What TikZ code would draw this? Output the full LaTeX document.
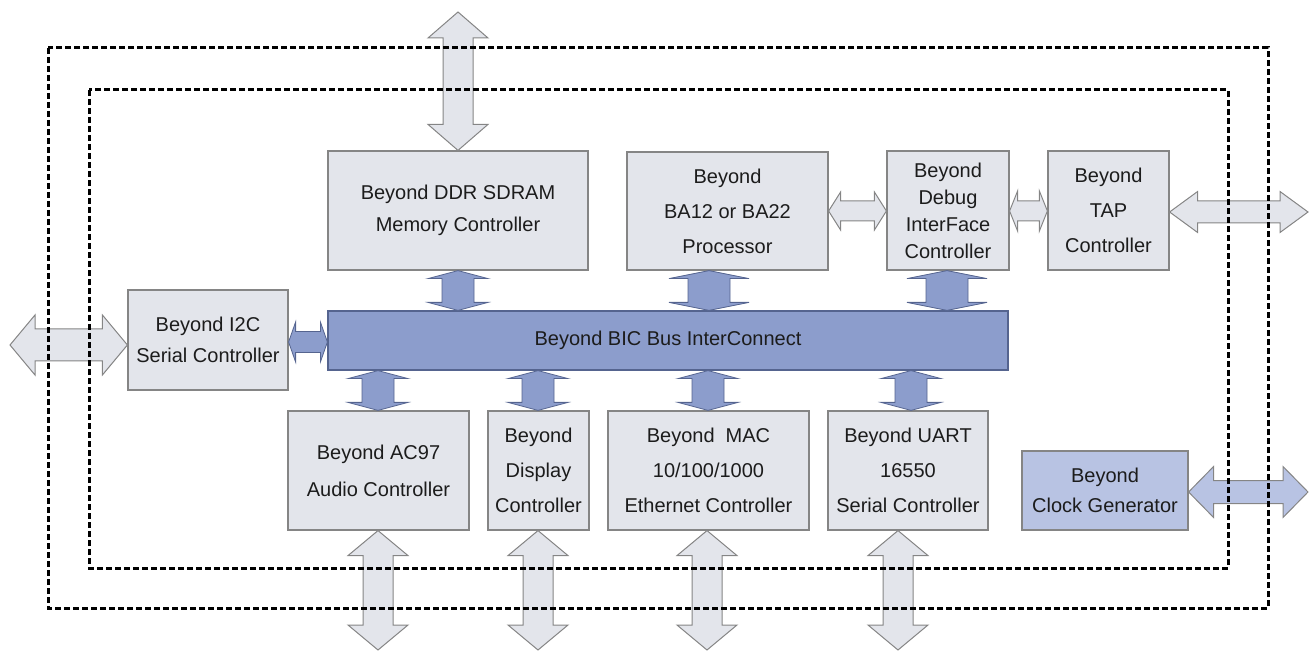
\documentclass[tikz,border=0pt]{standalone}
\usepackage{fontspec}
\setmainfont{Liberation Sans}
\usetikzlibrary{calc}

\definecolor{boxfill}{HTML}{E3E5EB}
\definecolor{boxline}{HTML}{858585}
\definecolor{busfill}{HTML}{8C9DCC}
\definecolor{busline}{HTML}{55648F}
\definecolor{clkfill}{HTML}{B8C3E3}
\definecolor{txt}{HTML}{1C1C1C}

% double block arrow, vertical: style, x, top end, bottom end, half shaft, half head, head length
\newcommand{\vlink}[7]{%
  \draw[#1] let \p1=(#3), \p2=(#4), \p3=(#2,0) in
    (\x3,\y1) -- (\x3+#6,\y1-#7) -- (\x3+#5,\y1-#7) -- (\x3+#5,\y2+#7)
    -- (\x3+#6,\y2+#7) -- (\x3,\y2) -- (\x3-#6,\y2+#7) -- (\x3-#5,\y2+#7)
    -- (\x3-#5,\y1-#7) -- (\x3-#6,\y1-#7) -- cycle;}
% double block arrow, horizontal: style, y, left end, right end, half shaft, half head, head length
\newcommand{\hlink}[7]{%
  \draw[#1] let \p1=(#3), \p2=(#4), \p3=(0,#2) in
    (\x1,\y3) -- (\x1+#7,\y3+#6) -- (\x1+#7,\y3+#5) -- (\x2-#7,\y3+#5)
    -- (\x2-#7,\y3+#6) -- (\x2,\y3) -- (\x2-#7,\y3-#6) -- (\x2-#7,\y3-#5)
    -- (\x1+#7,\y3-#5) -- (\x1+#7,\y3-#6) -- cycle;}

\begin{document}
\begin{tikzpicture}[x=1pt, y=-1pt,
    blk/.style={draw=boxline, fill=boxfill, line width=1.2pt, text=txt, inner sep=0pt,
      align=center, font=\fontsize{20}{35}\selectfont},
    bigarrow/.style={draw=boxline, fill=boxfill, line width=1pt, line join=miter},
    busarrow/.style={draw=busline, fill=busfill, line width=0.8pt},
    clkarrow/.style={draw=boxline, fill=clkfill, line width=1pt},
    border/.style={draw=black, line width=3pt, dash pattern=on 6pt off 3pt}]
  \useasboundingbox (0,0) rectangle (1310,652);

  % top row
  \node[blk, minimum width=260, minimum height=119, font=\fontsize{20}{32}\selectfont] (ddr) at (458,210.5) {Beyond DDR SDRAM\\Memory Controller};
  \node[blk, minimum width=201, minimum height=118] (cpu) at (727.5,211) {Beyond\\BA12 or  BA22\\Processor};
  \node[blk, minimum width=122, minimum height=119, font=\fontsize{20}{27}\selectfont] (dbg) at (948,210.5) {Beyond\\Debug\\InterFace\\Controller};
  \node[blk, minimum width=121, minimum height=119] (tap) at (1108.5,210.5) {Beyond\\TAP\\Controller};

  % bus row
  \node[blk, minimum width=160, minimum height=100, font=\fontsize{20}{31}\selectfont] (i2c) at (208,340) {Beyond I2C\\Serial Controller};
  \node[blk, fill=busfill, draw=busline, minimum width=680, minimum height=59] (bus) at (668,340.5) {Beyond BIC Bus InterConnect};

  % bottom row
  \node[blk, minimum width=181, minimum height=119, font=\fontsize{20}{37}\selectfont] (ac97) at (378.5,470.5) {Beyond AC97\\Audio Controller};
  \node[blk, minimum width=101, minimum height=119] (disp) at (538.5,470.5) {Beyond\\Display\\Controller};
  \node[blk, minimum width=201, minimum height=119] (mac) at (708.5,470.5) {Beyond~~MAC\\10/100/1000\\Ethernet Controller};
  \node[blk, minimum width=160, minimum height=119] (uart) at (908,470.5) {Beyond UART\\16550\\Serial Controller};
  \node[blk, fill=clkfill, draw=boxline, minimum width=166, minimum height=79, font=\fontsize{20}{30}\selectfont] (clk) at (1105,490.5) {Beyond\\Clock Generator};

  % free ends of the outside links
  \coordinate (ddrout) at (458,12);
  \coordinate (i2cout) at (10,345);
  \coordinate (tapout) at (1308,212);
  \coordinate (clkout) at (1308,492);
  \coordinate (botout) at (0,650);

  % links to the bus
  \vlink{busarrow}{458}{ddr.south}{bus.north}{16pt}{30pt}{8pt}
  \vlink{busarrow}{709}{cpu.south}{bus.north}{21pt}{40pt}{8pt}
  \vlink{busarrow}{947}{dbg.south}{bus.north}{21pt}{40pt}{8pt}
  \vlink{busarrow}{378}{bus.south}{ac97.north}{16pt}{30pt}{8pt}
  \vlink{busarrow}{538}{bus.south}{disp.north}{16pt}{30pt}{8pt}
  \vlink{busarrow}{708}{bus.south}{mac.north}{16pt}{30pt}{8pt}
  \vlink{busarrow}{911}{bus.south}{uart.north}{16pt}{30pt}{8pt}
  \hlink{busarrow}{342}{i2c.east}{bus.west}{10.5pt}{20pt}{7pt}

  % links between blocks and to the outside
  \vlink{bigarrow}{458}{ddrout}{ddr.north}{15pt}{30pt}{26pt}
  \hlink{bigarrow}{211}{cpu.east}{dbg.west}{10pt}{19pt}{12pt}
  \hlink{bigarrow}{211}{dbg.east}{tap.west}{10pt}{20pt}{8pt}
  \hlink{bigarrow}{212}{tap.east}{tapout}{11pt}{20.5pt}{28pt}
  \hlink{bigarrow}{345}{i2cout}{i2c.west}{16pt}{30pt}{25pt}
  \hlink{clkarrow}{492}{clk.east}{clkout}{11.5pt}{25.5pt}{25pt}
  \vlink{bigarrow}{378}{ac97.south}{botout}{15pt}{30pt}{25pt}
  \vlink{bigarrow}{538}{disp.south}{botout}{15pt}{30pt}{25pt}
  \vlink{bigarrow}{707}{mac.south}{botout}{15pt}{30pt}{25pt}
  \vlink{bigarrow}{898}{uart.south}{botout}{15pt}{30pt}{25pt}

  % chip and pad ring borders
  \draw[border] (48,48) rectangle (1268,608);
  \draw[border] (89,90) rectangle (1228,568);
\end{tikzpicture}
\end{document}
